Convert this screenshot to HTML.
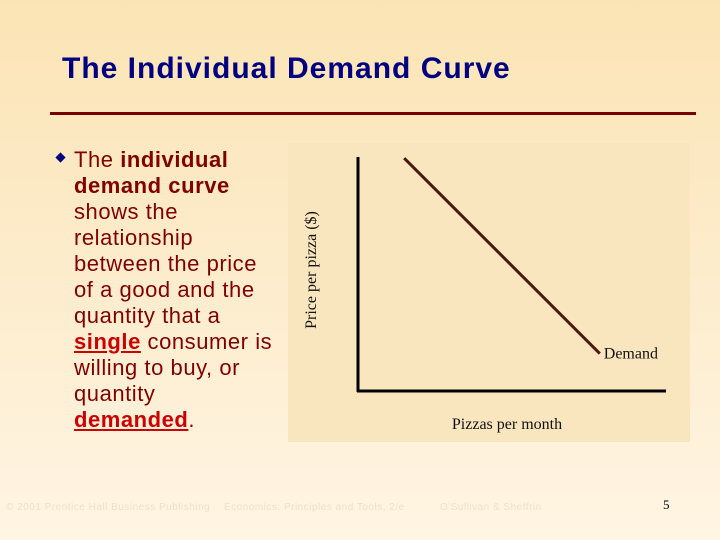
<!DOCTYPE html>
<html><head><meta charset="utf-8"><style>
html,body{margin:0;padding:0}
body{width:720px;height:540px;position:relative;overflow:hidden;background:linear-gradient(to bottom,#fbe4b4 0%,#fdeccc 50%,#fff5e3 100%);font-family:"Liberation Sans",Arial,sans-serif}
#title{position:absolute;left:62px;top:52px;font-size:30px;letter-spacing:1px;font-weight:bold;color:#000080;white-space:nowrap}
#rule{position:absolute;left:50px;top:112px;width:646px;height:3px;background:#7a0000}
#bullet{position:absolute;left:56px;top:153px;width:9px;height:9px;background:#000080;transform:rotate(45deg) scale(.8)}
#body{position:absolute;left:74px;top:147px;font-size:22px;letter-spacing:0.55px;line-height:26px;color:#800000;white-space:nowrap}
.hl{color:#cc0000;font-weight:bold;text-decoration:underline}
.ft{position:absolute;top:502px;font-size:10px;letter-spacing:0.5px;color:#ece2c8}
#pg{position:absolute;left:663px;top:497px;font-family:"Liberation Serif",serif;font-size:13px;color:#000}
</style></head><body>
<div id="title">The Individual Demand Curve</div>
<div id="rule"></div>
<div id="bullet"></div>
<div id="body">The <b>individual</b><br><b>demand curve</b><br>shows the<br>relationship<br>between the price<br>of a good and the<br>quantity that a<br><span class="hl">single</span> consumer is<br>willing to buy, or<br>quantity<br><span class="hl">demanded</span>.</div>
<svg id="chart" style="position:absolute;left:0;top:0" width="720" height="540">
<rect x="288" y="143" width="402" height="299" fill="#fae6be"/>
<g id="marks"></g>
<line x1="358" y1="157" x2="358" y2="392" stroke="#000" stroke-width="3"/>
<line x1="357" y1="391" x2="666" y2="391" stroke="#000" stroke-width="3"/>
<text transform="translate(316,270) rotate(-90)" text-anchor="middle" font-family="Liberation Serif,serif" font-size="16" fill="#111">Price per pizza ($)</text>
<text x="507" y="429" text-anchor="middle" font-family="Liberation Serif,serif" font-size="16" fill="#111">Pizzas per month</text>
</svg>
<div class="ft" style="left:6px">© 2001 Prentice Hall Business Publishing</div>
<div class="ft" style="left:224px">Economics: Principles and Tools, 2/e</div>
<div class="ft" style="left:440px">O'Sullivan &amp; Sheffrin</div>
<div id="pg">5</div>
<script>
const quantities=[1.5,7.85];
const prices=[9.95,1.6];
const seriesLabel=["Demand"];
function xs(q){return 358+q*30.8;}
function ys(p){return 391-p*23.4;}
const g=document.getElementById('marks');
const ns='http://www.w3.org/2000/svg';
const pl=document.createElementNS(ns,'polyline');


pl.setAttribute('points',quantities.map((q,i)=>xs(q)+','+ys(prices[i])).join(' '));
pl.setAttribute('fill','none');pl.setAttribute('stroke','#4a1a10');pl.setAttribute('stroke-width','3');
g.appendChild(pl);
const t=document.createElementNS(ns,'text');


const li=quantities.length-1;
t.setAttribute('x',xs(quantities[li])+4);t.setAttribute('y',ys(prices[li])+5);
t.setAttribute('font-family','Liberation Serif,serif');t.setAttribute('font-size','16');t.setAttribute('fill','#111');
t.textContent=seriesLabel[0];
g.appendChild(t);
</script>
</body></html>
